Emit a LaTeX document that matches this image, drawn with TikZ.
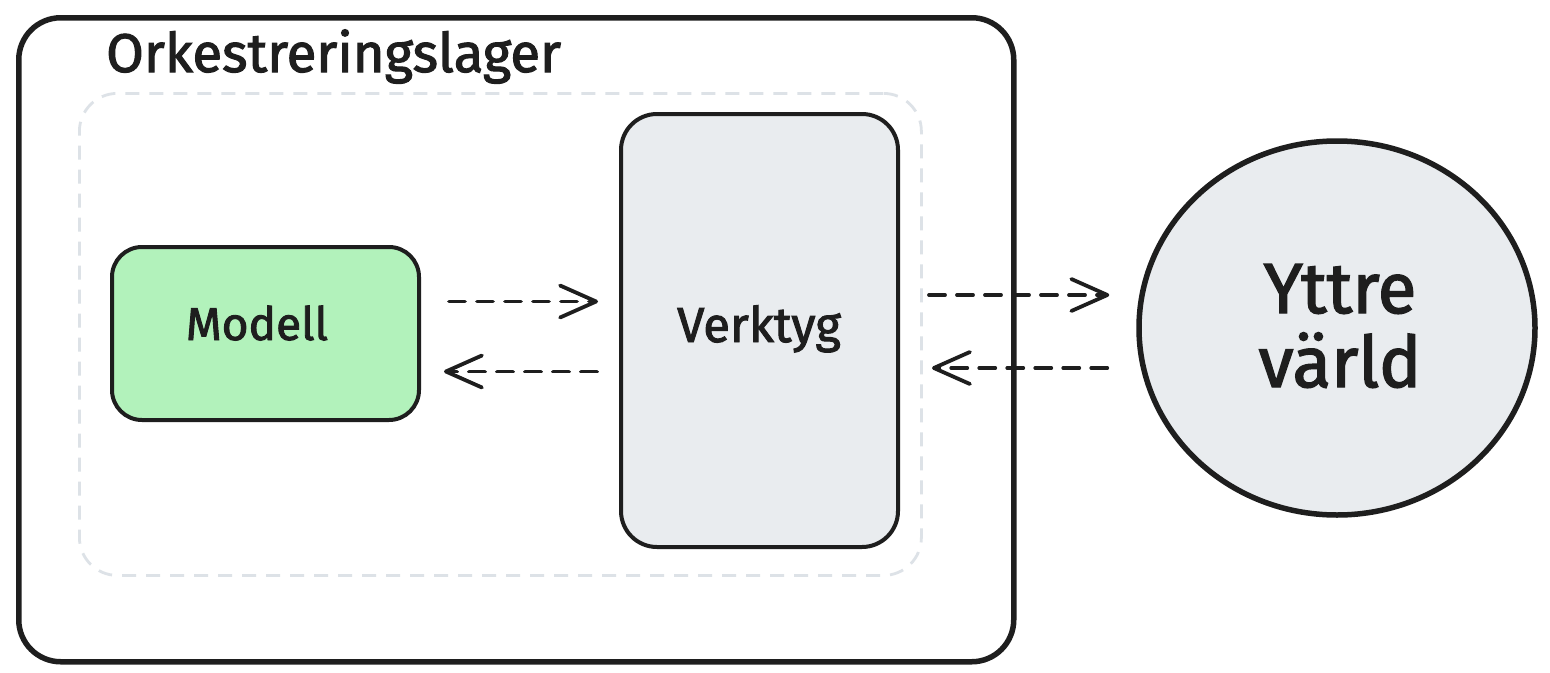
\documentclass[tikz,border=0pt]{standalone}
\usepackage{fontspec}
\setmainfont{Fira Sans}
\newfontfamily\handfont{Fira Sans}[FakeBold=2]
\usetikzlibrary{arrows.meta,shapes.geometric,calc}
\definecolor{ink}{HTML}{1E1E1E}
\definecolor{greenfill}{HTML}{B2F2BB}
\definecolor{grayfill}{HTML}{E9ECEF}
\definecolor{dashgray}{HTML}{DDE2E7}
\tikzset{
  box/.style={draw=ink, line width=4pt, inner sep=0pt},
  flow/.style={draw=ink, line width=3.8pt, dash pattern=on 16pt off 12pt, line cap=round,
    -{Straight Barb[length=36pt,width=32pt,line width=3.8pt,round]}},
  lbl/.style={text=ink, inner sep=0pt, font=\handfont\fontsize{46}{54}\selectfont}
}
\begin{document}
\begin{tikzpicture}[x=1pt,y=-1pt]
\useasboundingbox[fill=white] (0,0) rectangle (1550,672);
% outer container
\node[draw=ink, line width=5.5pt, rounded corners=42pt, minimum width=995pt, minimum height=644pt, inner sep=0pt, anchor=north west] (outer) at (16,15) {};
\node[lbl, anchor=base west, font=\handfont\fontsize{54.5}{60}\selectfont] (title) at (106,72) {Orkestreringslager};
% dashed inner region
\node[draw=dashgray, line width=2.8pt, dash pattern=on 14pt off 10pt, rounded corners=38pt, minimum width=842pt, minimum height=482pt, inner sep=0pt, anchor=north west] (inner) at (78,92) {};
% model
\node[box, fill=greenfill, minimum width=307pt, minimum height=173pt, anchor=north west, rounded corners=30pt] (model) at (110,245) {};
\node[lbl, anchor=base] (modeltext) at (257,340) {Modell};
% tool
\node[box, fill=grayfill, minimum width=277pt, minimum height=433pt, anchor=north west, rounded corners=36pt] (tool) at (619,112) {};
\node[lbl, anchor=base, font=\handfont\fontsize{49}{54}\selectfont] (tooltext) at (759,342) {Verktyg};
% world
\node[ellipse, draw=ink, line width=5.5pt, fill=grayfill, minimum width=396pt, minimum height=374pt, inner sep=0pt] (world) at (1337,328) {};
\node[lbl, anchor=base, font=\handfont\fontsize{71}{74}\selectfont] (w1) at (1340,313) {Yttre};
\node[lbl, anchor=base, font=\handfont\fontsize{71}{74}\selectfont] (w2) at (1340,387) {värld};
% connectors
\draw[flow, shorten <=28pt, shorten >=21pt] ([yshift=32pt]model.east) -- ([yshift=32pt]model.east -| tool.west);
\draw[flow, shorten <=22pt, shorten >=23pt] ([yshift=-38pt]model.east -| tool.west) -- ([yshift=-38pt]model.east);
\draw[flow, shorten <=29pt, shorten >=27pt] ([yshift=33pt]tool.east |- world.center) -- ([yshift=33pt]world.west);
\draw[flow, shorten <=29pt, shorten >=32pt] ([yshift=-40pt]world.west) -- ([yshift=-40pt]tool.east |- world.center);
\end{tikzpicture}
\end{document}
